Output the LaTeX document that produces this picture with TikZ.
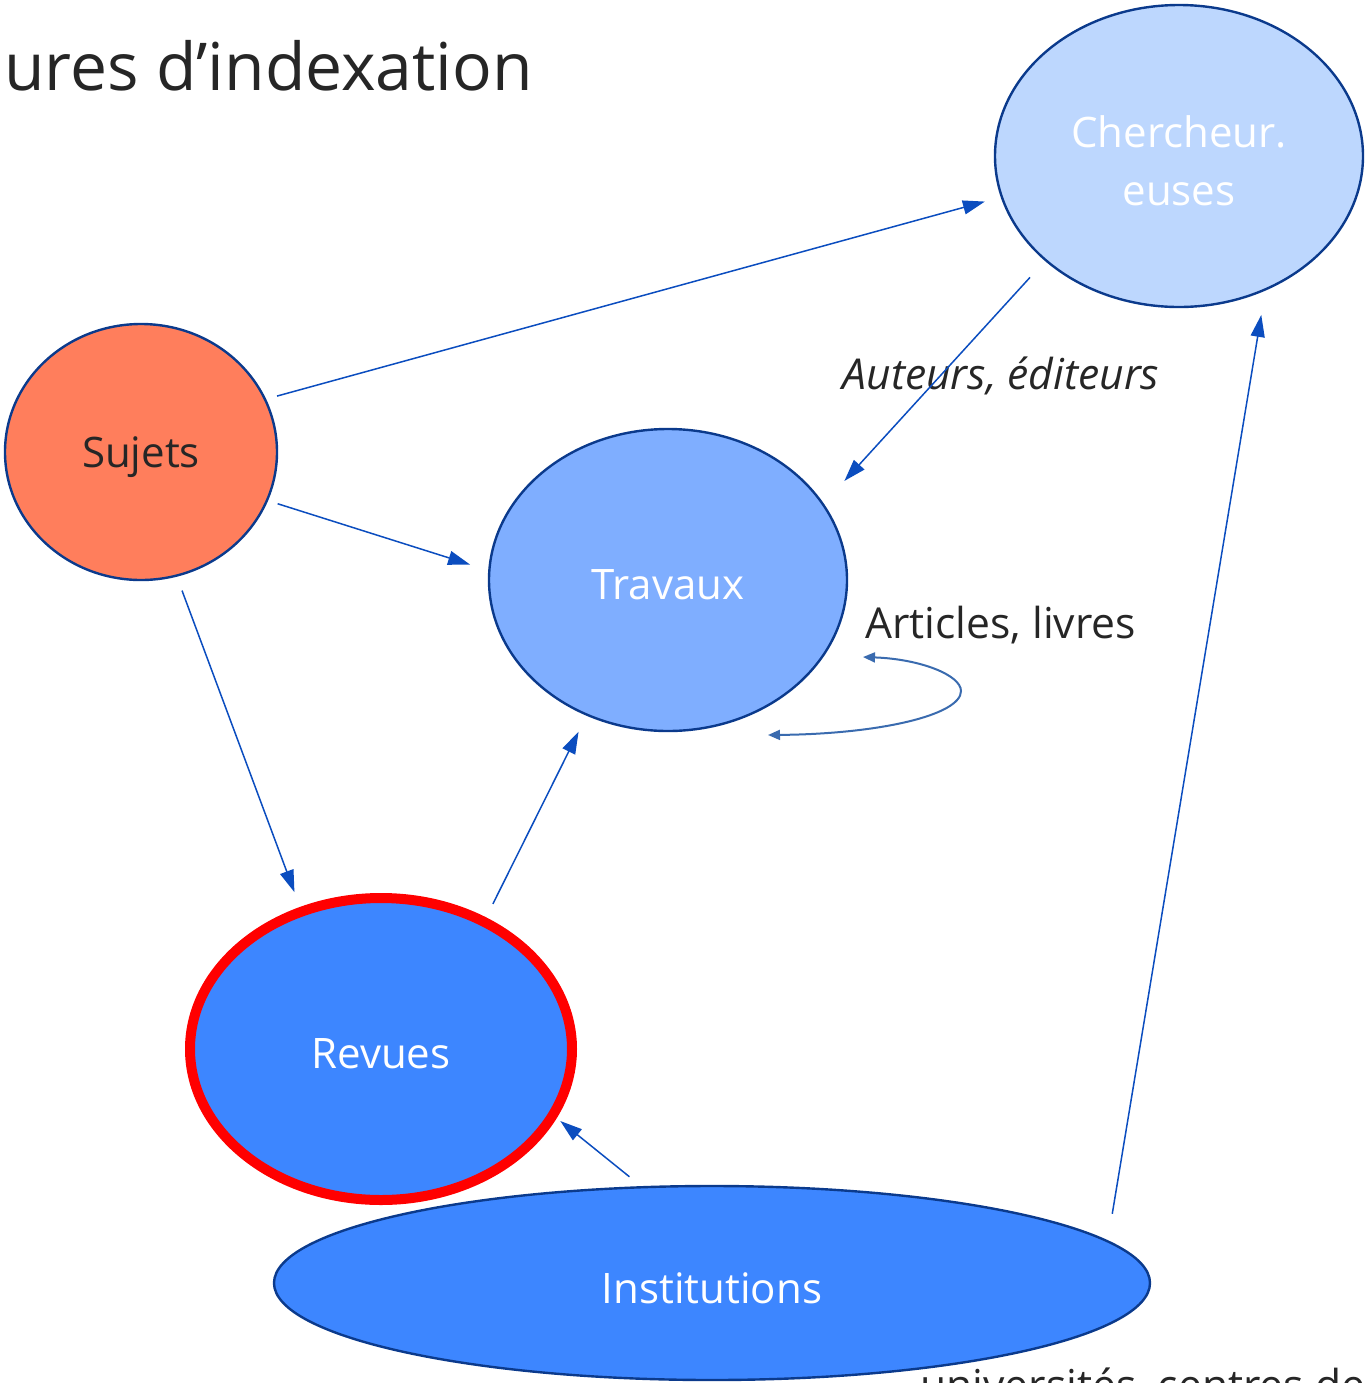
\documentclass[tikz,border=0pt]{standalone}
\usepackage{fontspec}
\setmainfont{Open Sans}
\usetikzlibrary{arrows.meta,calc,shapes.geometric}
\definecolor{navy}{HTML}{0B3A8C}
\definecolor{arrowblue}{HTML}{0B4DBF}
\definecolor{loopblue}{HTML}{3A6BAF}
\definecolor{lightblue}{HTML}{BDD7FE}
\definecolor{midblue}{HTML}{7FAEFF}
\definecolor{deepblue}{HTML}{3D86FF}
\definecolor{coral}{HTML}{FF7E5C}
\definecolor{txt}{HTML}{262626}
\newcommand{\lowr}[1]{\raisebox{0pt}[\dimexpr\height+5pt\relax][\depth]{#1}}
\begin{document}
\begin{tikzpicture}[x=0.5pt,y=-0.5pt,
  bubble/.style={ellipse, draw=navy, line width=1.2pt, inner sep=0pt, outer sep=0pt,
    font=\fontsize{21}{29}\selectfont, align=center, text=white},
  link/.style={draw=arrowblue, line width=0.75pt, -{Triangle[length=11pt,width=7pt]}},
  looplink/.style={draw=loopblue, line width=1pt, {Triangle[length=6pt,width=5pt]}-{Triangle[length=6pt,width=5pt]}},
  label/.style={text=txt, font=\fontsize{21.3}{29}\selectfont, inner sep=0pt}]
\useasboundingbox (0,0) rectangle (1369,1383);

\node[anchor=base west, text=txt, font=\fontsize{33}{40}\selectfont, inner sep=0pt] (title) at (4,90) {ures d’indexation};

\node[bubble, fill=lightblue, minimum width=184pt, minimum height=151pt] (cher) at (1179,156) {\lowr{Chercheur.}\\euses};
\node[bubble, fill=coral, text=txt, minimum width=136pt, minimum height=128pt] (suj) at (141,452) {\lowr{Sujets}};
\node[bubble, fill=midblue, minimum width=179pt, minimum height=151pt] (trav) at (668,580) {\lowr{Travaux}};
\node[bubble, fill=deepblue, draw=red, line width=5pt, minimum width=191pt, minimum height=151pt] (rev) at (381,1049) {\lowr{Revues}};
\node[bubble, fill=deepblue, minimum width=438pt, minimum height=97pt] (inst) at (712,1283) {\lowr{Institutions}};

\node[label, anchor=base, font=\fontsize{21.3}{29}\selectfont\itshape] (aut) at (1001,389) {Auteurs, éditeurs};
\node[label, anchor=base west] (art) at (865,638) {Articles, livres};
\node[label, anchor=base west] (univ) at (920,1400) {universités, centres de};

\draw[link, shorten <=6.25pt, shorten >=8.8pt] (suj.23) -- (cher.193.15);
\draw[link, shorten <=5.6pt, shorten >=10.1pt] (suj.-21.6) -- (trav.177.1);
\draw[link, shorten <=8pt, shorten >=10.4pt] (suj.-74.5) -- (rev.120.9);
\draw[link, shorten <=11.7pt, shorten >=15.9pt] (cher.218.96) -- (trav.26.45);
\draw[link, shorten <=10pt, shorten >=9.55pt] (rev.51.8) -- (trav.239.25);
\draw[link, shorten <=8.35pt, shorten >=4.8pt] (inst.126.1) -- (rev.-21.8);
\draw[link, shorten <=14pt, shorten >=13pt] (inst.6.3) -- (cher.-57.9);

\draw[looplink] ($(trav)+(195,77)$) .. controls ($(trav)+(252,79)$) and ($(trav)+(293,95)$) .. ($(trav)+(293,111)$)
  .. controls ($(trav)+(293,135)$) and ($(trav)+(212,154)$) .. ($(trav)+(100,155)$);
\end{tikzpicture}
\end{document}
